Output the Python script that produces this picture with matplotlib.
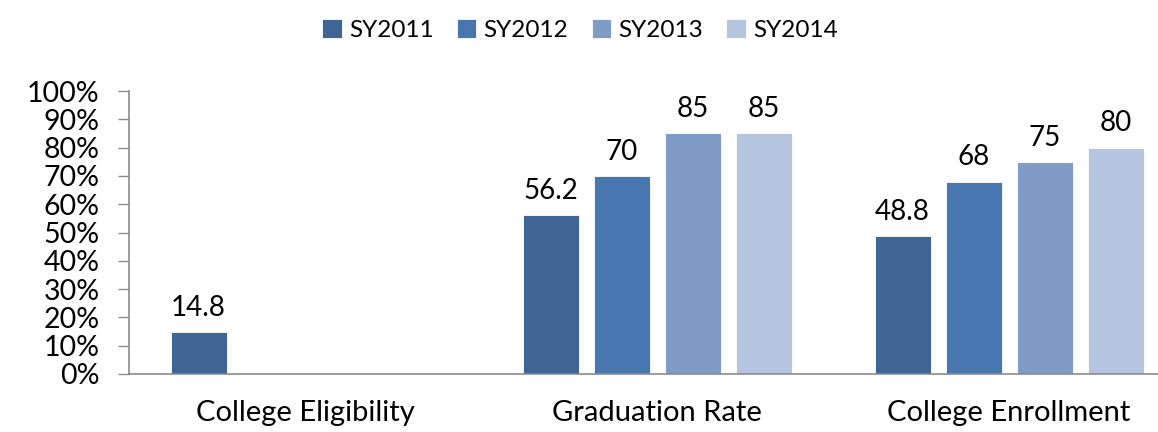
import matplotlib
matplotlib.use("Agg")
import matplotlib.pyplot as plt
import numpy as np

categories = ["College Eligibility", "Graduation Rate", "College Enrollment"]
series = ["SY2011", "SY2012", "SY2013", "SY2014"]
values = {
    "SY2011": [14.8, 56.2, 48.8],
    "SY2012": [None, 70, 68],
    "SY2013": [None, 85, 75],
    "SY2014": [None, 85, 80],
}
labels = {
    "SY2011": ["14.8", "56.2", "48.8"],
    "SY2012": [None, "70", "68"],
    "SY2013": [None, "85", "75"],
    "SY2014": [None, "85", "80"],
}
yticks = [0, 10, 20, 30, 40, 50, 60, 70, 80, 90, 100]
ytick_labels = [f"{t}%" for t in yticks]
colors = ["#3E6594", "#4877AF", "#7F9CC7", "#B5C4DF"]

plt.rcParams['font.family'] = ['Lato', 'DejaVu Sans']
fig = plt.figure(figsize=(11.58, 4.32), dpi=100)
ax = fig.add_axes([129/1158, 1 - 374/432, 1 - 129/1158, (374 - 91)/432])

x = np.arange(len(categories))
width = 56/352
step = 71/352
handles = []
for i, s in enumerate(series):
    xs = x + (i - 1.5) * step
    vals = [v if v is not None else 0 for v in values[s]]
    h = ax.bar(xs, vals, width, color=colors[i], edgecolor="white", linewidth=0.6, label=s)
    handles.append(h)
    for xi, v, lab in zip(xs, values[s], labels[s]):
        if v is None:
            continue
        ax.annotate(lab, (xi, v), xytext=(0, 8), textcoords="offset points",
                    ha="center", va="bottom", fontsize=20, color="black")

ax.set_xlim(-0.5, (1158 - 129)/352 - 0.5)
ax.set_ylim(0, 100)
ax.set_yticks(yticks)
ax.set_yticklabels(ytick_labels)
ax.set_xticks(x)
ax.set_xticklabels(categories)
ax.tick_params(axis="y", direction="out", length=8, width=1, color="#8C8C8C",
               labelsize=20.5, pad=13)
ax.tick_params(axis="x", length=0, labelsize=21, pad=19)
for sp in ["top", "right"]:
    ax.spines[sp].set_visible(False)
for sp in ["left", "bottom"]:
    ax.spines[sp].set_color("#8C8C8C")
    ax.spines[sp].set_linewidth(1.2)

fig.legend(handles=handles, labels=series, loc="center", ncol=4,
           bbox_to_anchor=(580/1158, 1 - 30/432), frameon=False, fontsize=17.5,
           handlelength=0.8, handleheight=0.8, handletextpad=0.3,
           columnspacing=0.95)

fig.savefig("out.png", dpi=100)
